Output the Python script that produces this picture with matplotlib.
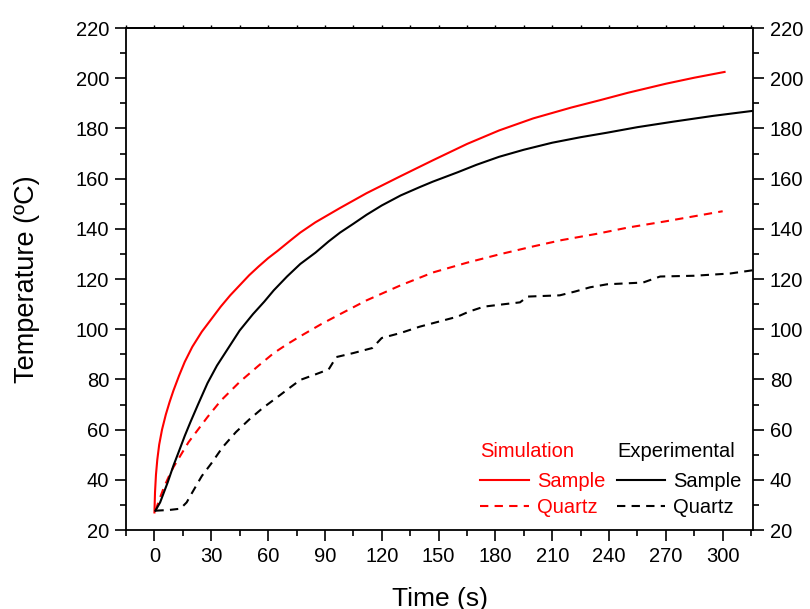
import matplotlib
matplotlib.use('Agg')
import matplotlib.pyplot as plt
from matplotlib.ticker import MultipleLocator
from matplotlib.lines import Line2D

plt.rcParams['font.family'] = ['Liberation Sans', 'DejaVu Sans']

# simulation, sample
sim_sample_t = [0, 0.3, 0.8, 1.5, 2.5, 4, 6, 8, 10, 13, 16, 20, 25, 30, 35, 40, 45, 50, 55, 60,
                65, 72, 77, 85, 98, 112, 130, 147, 165, 182, 200, 220, 235, 250, 270, 285, 301]
sim_sample_T = [27, 35, 42, 48, 54, 60, 66, 71, 75.5, 81.5, 87, 93, 99, 104, 109, 113.5, 117.5, 121.5, 125, 128.3,
                131.2, 135.5, 138.5, 142.6, 148.3, 154.2, 161, 167.3, 173.8, 179.2, 184, 188.3, 191.2, 194.2, 197.8, 200.2, 202.5]

# simulation, quartz
sim_quartz_t = [0.5, 3, 5, 8, 10, 14, 18, 22, 28, 35, 45, 55, 63, 70, 77, 88, 98, 112, 130, 147,
                165, 182, 200, 215, 233.5, 250, 270, 285, 300]
sim_quartz_T = [27.7, 33, 37, 42, 45, 50, 55, 59, 65, 71.5, 79, 85.5, 90.5, 94, 97.2, 102, 106, 111.5, 117.5, 122.6,
                126.5, 129.8, 133, 135.5, 138, 140.5, 143, 145, 147]

# experimental, sample
exp_sample_t = [0.5, 3, 5, 7, 10, 13, 16, 19, 23, 28, 33, 39, 45, 52, 58, 63, 70, 77, 85, 92, 98,
                105, 112, 120, 130, 140, 147, 160, 170, 182, 195, 210, 225, 239, 255, 274, 295, 316]
exp_sample_T = [27.7, 31, 35, 39, 45.6, 51.5, 57.5, 63, 70, 78.5, 85.5, 92.5, 99.5, 106, 111, 115.5, 121, 126, 130.5, 135, 138.5,
                142, 145.6, 149.3, 153.3, 156.6, 158.8, 162.5, 165.5, 168.7, 171.5, 174.3, 176.5, 178.3, 180.5, 182.7, 185, 187]

# experimental, quartz
exp_quartz_t = [0.5, 8, 13.7, 17, 20, 25, 30, 36, 43, 50, 57, 65, 72, 77, 85, 92, 96, 105, 115, 120,
                130, 140, 150, 160, 166, 174, 185, 193, 197, 214, 222, 230, 239, 250, 258, 267, 285, 304, 316]
exp_quartz_T = [27.7, 28, 28.5, 31, 35, 41.5, 46.5, 53, 59, 64, 68.5, 73, 77, 79.8, 82, 84, 88.9, 90.5, 92.5, 96.5,
                98.5, 101, 103, 105, 107, 109, 110, 110.7, 113, 113.5, 115, 116.7, 117.9, 118.3, 118.6, 121, 121.3, 122.2, 123.5]

fig = plt.figure(figsize=(8.1, 6.09), dpi=100)
ax = fig.add_axes([0.1556, 0.1297, 0.774, 0.8243])

lw = 1.5
dash = (0, (4, 3))
ax.plot(sim_sample_t, sim_sample_T, color='red', lw=lw)
ax.plot(sim_quartz_t, sim_quartz_T, color='red', lw=lw, ls=dash)
ax.plot(exp_sample_t, exp_sample_T, color='black', lw=lw)
ax.plot(exp_quartz_t, exp_quartz_T, color='black', lw=lw, ls=dash)

ax.set_xlim(-15, 316)
ax.set_ylim(20, 220)
ax.set_xticks(range(0, 301, 30))
ax.xaxis.set_minor_locator(MultipleLocator(15))
ax.yaxis.set_major_locator(MultipleLocator(20))
ax.yaxis.set_minor_locator(MultipleLocator(10))

ax.tick_params(which='both', direction='out', width=1.2, labelsize=14.5,
               left=True, right=True, labelright=True, bottom=True, top=False)
ax.tick_params(which='major', length=8, pad=4)
ax.tick_params(which='minor', length=4)
for s in ax.spines.values():
    s.set_linewidth(1.3)

#  tiny marks along the top edge
top = ax.secondary_xaxis('top')
top.set_xticks(list(range(-15, 316, 15)))
top.set_xticklabels([])
top.tick_params(length=2, width=1.0)
top.spines['top'].set_linewidth(1.3)

ax.set_xlabel('Time (s)', fontsize=19, labelpad=15)
ax.set_ylabel('Temperature (ºC)', fontsize=19.5, labelpad=26)

fs = 14.5
h1 = [Line2D([], [], color='red', lw=lw), Line2D([], [], color='red', lw=lw, ls=dash)]
leg1 = ax.legend(h1, ['Sample', 'Quartz'], title='Simulation', loc='lower left',
                 bbox_to_anchor=(0.565, 0.025), borderpad=0, borderaxespad=0,
                 frameon=False, fontsize=fs, title_fontsize=fs, handlelength=2.4,
                 handletextpad=0.4, labelspacing=0.35, labelcolor='red', alignment='left')
leg1.get_title().set_color('red')
leg1._legend_box.sep = 8
ax.add_artist(leg1)
h2 = [Line2D([], [], color='black', lw=lw), Line2D([], [], color='black', lw=lw, ls=dash)]
leg2 = ax.legend(h2, ['Sample', 'Quartz'], title='Experimental', loc='lower left',
                 bbox_to_anchor=(0.783, 0.025), borderpad=0, borderaxespad=0,
                 frameon=False, fontsize=fs, title_fontsize=fs, handlelength=2.4,
                 handletextpad=0.4, labelspacing=0.35, alignment='left')
leg2._legend_box.sep = 8

fig.savefig('out.png', dpi=100)
